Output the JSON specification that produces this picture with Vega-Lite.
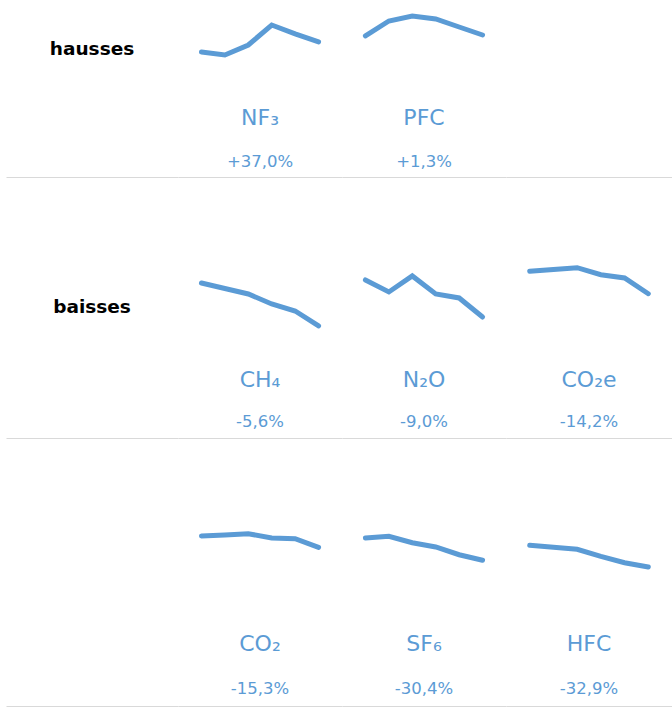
{
  "$schema": "https://vega.github.io/schema/vega-lite/v6.json",
  "padding": {"left": 6, "top": 5, "right": 0, "bottom": 3},
  "background": "white",
  "datasets": {
    "gases": [
      {"gas": "NF3", "pt": 1, "v": 43.8}, {"gas": "NF3", "pt": 2, "v": 40.0}, {"gas": "NF3", "pt": 3, "v": 52.5},
      {"gas": "NF3", "pt": 4, "v": 77.5}, {"gas": "NF3", "pt": 5, "v": 66.3}, {"gas": "NF3", "pt": 6, "v": 56.3},
      {"gas": "PFC", "pt": 1, "v": 63.8}, {"gas": "PFC", "pt": 2, "v": 82.5}, {"gas": "PFC", "pt": 3, "v": 88.8},
      {"gas": "PFC", "pt": 4, "v": 85.0}, {"gas": "PFC", "pt": 5, "v": 75.0}, {"gas": "PFC", "pt": 6, "v": 65.0},
      {"gas": "CH4", "pt": 1, "v": 80.0}, {"gas": "CH4", "pt": 2, "v": 73.1}, {"gas": "CH4", "pt": 3, "v": 66.3},
      {"gas": "CH4", "pt": 4, "v": 53.8}, {"gas": "CH4", "pt": 5, "v": 45.0}, {"gas": "CH4", "pt": 6, "v": 26.3},
      {"gas": "N2O", "pt": 1, "v": 83.8}, {"gas": "N2O", "pt": 2, "v": 68.8}, {"gas": "N2O", "pt": 3, "v": 88.8},
      {"gas": "N2O", "pt": 4, "v": 66.3}, {"gas": "N2O", "pt": 5, "v": 61.3}, {"gas": "N2O", "pt": 6, "v": 37.5},
      {"gas": "CO2e", "pt": 1, "v": 94.6}, {"gas": "CO2e", "pt": 2, "v": 96.9}, {"gas": "CO2e", "pt": 3, "v": 99.1},
      {"gas": "CO2e", "pt": 4, "v": 90.4}, {"gas": "CO2e", "pt": 5, "v": 86.3}, {"gas": "CO2e", "pt": 6, "v": 66.6},
      {"gas": "CO2", "pt": 1, "v": 89.3}, {"gas": "CO2", "pt": 2, "v": 90.5}, {"gas": "CO2", "pt": 3, "v": 92.0},
      {"gas": "CO2", "pt": 4, "v": 86.9}, {"gas": "CO2", "pt": 5, "v": 86.1}, {"gas": "CO2", "pt": 6, "v": 75.8},
      {"gas": "SF6", "pt": 1, "v": 86.9}, {"gas": "SF6", "pt": 2, "v": 88.9}, {"gas": "SF6", "pt": 3, "v": 81.3},
      {"gas": "SF6", "pt": 4, "v": 76.2}, {"gas": "SF6", "pt": 5, "v": 67.0}, {"gas": "SF6", "pt": 6, "v": 60.4},
      {"gas": "HFC", "pt": 1, "v": 78.2}, {"gas": "HFC", "pt": 2, "v": 75.8}, {"gas": "HFC", "pt": 3, "v": 73.5},
      {"gas": "HFC", "pt": 4, "v": 65.1}, {"gas": "HFC", "pt": 5, "v": 57.5}, {"gas": "HFC", "pt": 6, "v": 52.4}
    ]
  },
  "columns": 4,
  "bounds": "flush",
  "spacing": {"row": 180, "column": 0},
  "concat": [
    {
      "width": 172, "height": 80,
      "data": {"values": [{"label": "hausses"}]},
      "mark": {"type": "text", "font": "DejaVu Sans", "fontWeight": "bold", "fontSize": 18.5, "color": "#000000", "dy": 2},
      "encoding": {
        "x": {"field": "label", "type": "nominal", "scale": {"type": "point", "padding": 0.5}, "axis": {"offset": 90, "title": null}},
        "text": {"field": "label"}
      }
    },
    {
      "width": 164, "height": 80,
      "data": {"name": "gases"},
      "transform": [{"filter": {"field": "gas", "equal": "NF3"}}],
      "title": {"text": "NF₃", "subtitle": "+37,0%", "offset": -69, "subtitlePadding": 24},
      "mark": {"type": "line", "strokeWidth": 5, "color": "#5b9bd5", "strokeCap": "round"},
      "encoding": {
        "x": {"field": "pt", "type": "ordinal", "scale": {"type": "point", "padding": 1}, "axis": {"offset": 90, "title": null}},
        "y": {"field": "v", "type": "quantitative", "scale": {"domain": [0, 100]}, "axis": null}
      }
    },
    {
      "width": 164, "height": 80,
      "data": {"name": "gases"},
      "transform": [{"filter": {"field": "gas", "equal": "PFC"}}],
      "title": {"text": "PFC", "subtitle": "+1,3%", "offset": -69, "subtitlePadding": 24},
      "mark": {"type": "line", "strokeWidth": 5, "color": "#5b9bd5", "strokeCap": "round"},
      "encoding": {
        "x": {"field": "pt", "type": "ordinal", "scale": {"type": "point", "padding": 1}, "axis": {"offset": 90, "title": null}},
        "y": {"field": "v", "type": "quantitative", "scale": {"domain": [0, 100]}, "axis": null}
      }
    },
    {
      "width": 166, "height": 80,
      "data": {"values": []},
      "mark": {"type": "line", "strokeWidth": 5, "color": "#5b9bd5"},
      "encoding": {
        "x": {"field": "pt", "type": "ordinal", "scale": {"type": "point", "padding": 1}, "axis": {"offset": 90, "title": null}},
        "y": {"field": "v", "type": "quantitative", "scale": {"domain": [0, 100]}, "axis": null}
      }
    },
    {
      "width": 172, "height": 80,
      "data": {"values": [{"label": "baisses"}]},
      "mark": {"type": "text", "font": "DejaVu Sans", "fontWeight": "bold", "fontSize": 18.5, "color": "#000000"},
      "encoding": {
        "x": {"field": "label", "type": "nominal", "scale": {"type": "point", "padding": 0.5}, "axis": {"offset": 91, "title": null}},
        "text": {"field": "label"}
      }
    },
    {
      "width": 164, "height": 80,
      "data": {"name": "gases"},
      "transform": [{"filter": {"field": "gas", "equal": "CH4"}}],
      "title": {"text": "CH₄", "subtitle": "-5,6%", "offset": -68, "subtitlePadding": 22},
      "mark": {"type": "line", "strokeWidth": 5, "color": "#5b9bd5", "strokeCap": "round"},
      "encoding": {
        "x": {"field": "pt", "type": "ordinal", "scale": {"type": "point", "padding": 1}, "axis": {"offset": 91, "title": null}},
        "y": {"field": "v", "type": "quantitative", "scale": {"domain": [0, 100]}, "axis": null}
      }
    },
    {
      "width": 164, "height": 80,
      "data": {"name": "gases"},
      "transform": [{"filter": {"field": "gas", "equal": "N2O"}}],
      "title": {"text": "N₂O", "subtitle": "-9,0%", "offset": -68, "subtitlePadding": 22},
      "mark": {"type": "line", "strokeWidth": 5, "color": "#5b9bd5", "strokeCap": "round"},
      "encoding": {
        "x": {"field": "pt", "type": "ordinal", "scale": {"type": "point", "padding": 1}, "axis": {"offset": 91, "title": null}},
        "y": {"field": "v", "type": "quantitative", "scale": {"domain": [0, 100]}, "axis": null}
      }
    },
    {
      "width": 166, "height": 80,
      "data": {"name": "gases"},
      "transform": [{"filter": {"field": "gas", "equal": "CO2e"}}],
      "title": {"text": "CO₂e", "subtitle": "-14,2%", "offset": -68, "subtitlePadding": 22},
      "mark": {"type": "line", "strokeWidth": 5, "color": "#5b9bd5", "strokeCap": "round"},
      "encoding": {
        "x": {"field": "pt", "type": "ordinal", "scale": {"type": "point", "padding": 1}, "axis": {"offset": 91, "title": null}},
        "y": {"field": "v", "type": "quantitative", "scale": {"domain": [0, 100]}, "axis": null}
      }
    },
    {
      "width": 172, "height": 84,
      "data": {"values": []},
      "mark": {"type": "text"},
      "encoding": {
        "x": {"field": "label", "type": "nominal", "scale": {"type": "point", "padding": 0.5}, "axis": {"offset": 95, "title": null}},
        "text": {"field": "label"}
      }
    },
    {
      "width": 164, "height": 84,
      "data": {"name": "gases"},
      "transform": [{"filter": {"field": "gas", "equal": "CO2"}}],
      "title": {"text": "CO₂", "subtitle": "-15,3%", "offset": -72},
      "mark": {"type": "line", "strokeWidth": 5, "color": "#5b9bd5", "strokeCap": "round"},
      "encoding": {
        "x": {"field": "pt", "type": "ordinal", "scale": {"type": "point", "padding": 1}, "axis": {"offset": 95, "title": null}},
        "y": {"field": "v", "type": "quantitative", "scale": {"domain": [0, 100]}, "axis": null}
      }
    },
    {
      "width": 164, "height": 84,
      "data": {"name": "gases"},
      "transform": [{"filter": {"field": "gas", "equal": "SF6"}}],
      "title": {"text": "SF₆", "subtitle": "-30,4%", "offset": -72},
      "mark": {"type": "line", "strokeWidth": 5, "color": "#5b9bd5", "strokeCap": "round"},
      "encoding": {
        "x": {"field": "pt", "type": "ordinal", "scale": {"type": "point", "padding": 1}, "axis": {"offset": 95, "title": null}},
        "y": {"field": "v", "type": "quantitative", "scale": {"domain": [0, 100]}, "axis": null}
      }
    },
    {
      "width": 166, "height": 84,
      "data": {"name": "gases"},
      "transform": [{"filter": {"field": "gas", "equal": "HFC"}}],
      "title": {"text": "HFC", "subtitle": "-32,9%", "offset": -72},
      "mark": {"type": "line", "strokeWidth": 5, "color": "#5b9bd5", "strokeCap": "round"},
      "encoding": {
        "x": {"field": "pt", "type": "ordinal", "scale": {"type": "point", "padding": 1}, "axis": {"offset": 95, "title": null}},
        "y": {"field": "v", "type": "quantitative", "scale": {"domain": [0, 100]}, "axis": null}
      }
    }
  ],
  "config": {
    "view": {"stroke": null},
    "axis": {"domainColor": "#d9d9d9", "domainWidth": 1, "ticks": false, "labels": false, "grid": false},
    "title": {
      "orient": "bottom", "anchor": "middle",
      "font": "DejaVu Sans", "fontSize": 22, "fontWeight": "normal", "color": "#5b9bd5",
      "subtitleFont": "DejaVu Sans", "subtitleFontSize": 16.5, "subtitleColor": "#5b9bd5", "subtitlePadding": 25
    }
  }
}
